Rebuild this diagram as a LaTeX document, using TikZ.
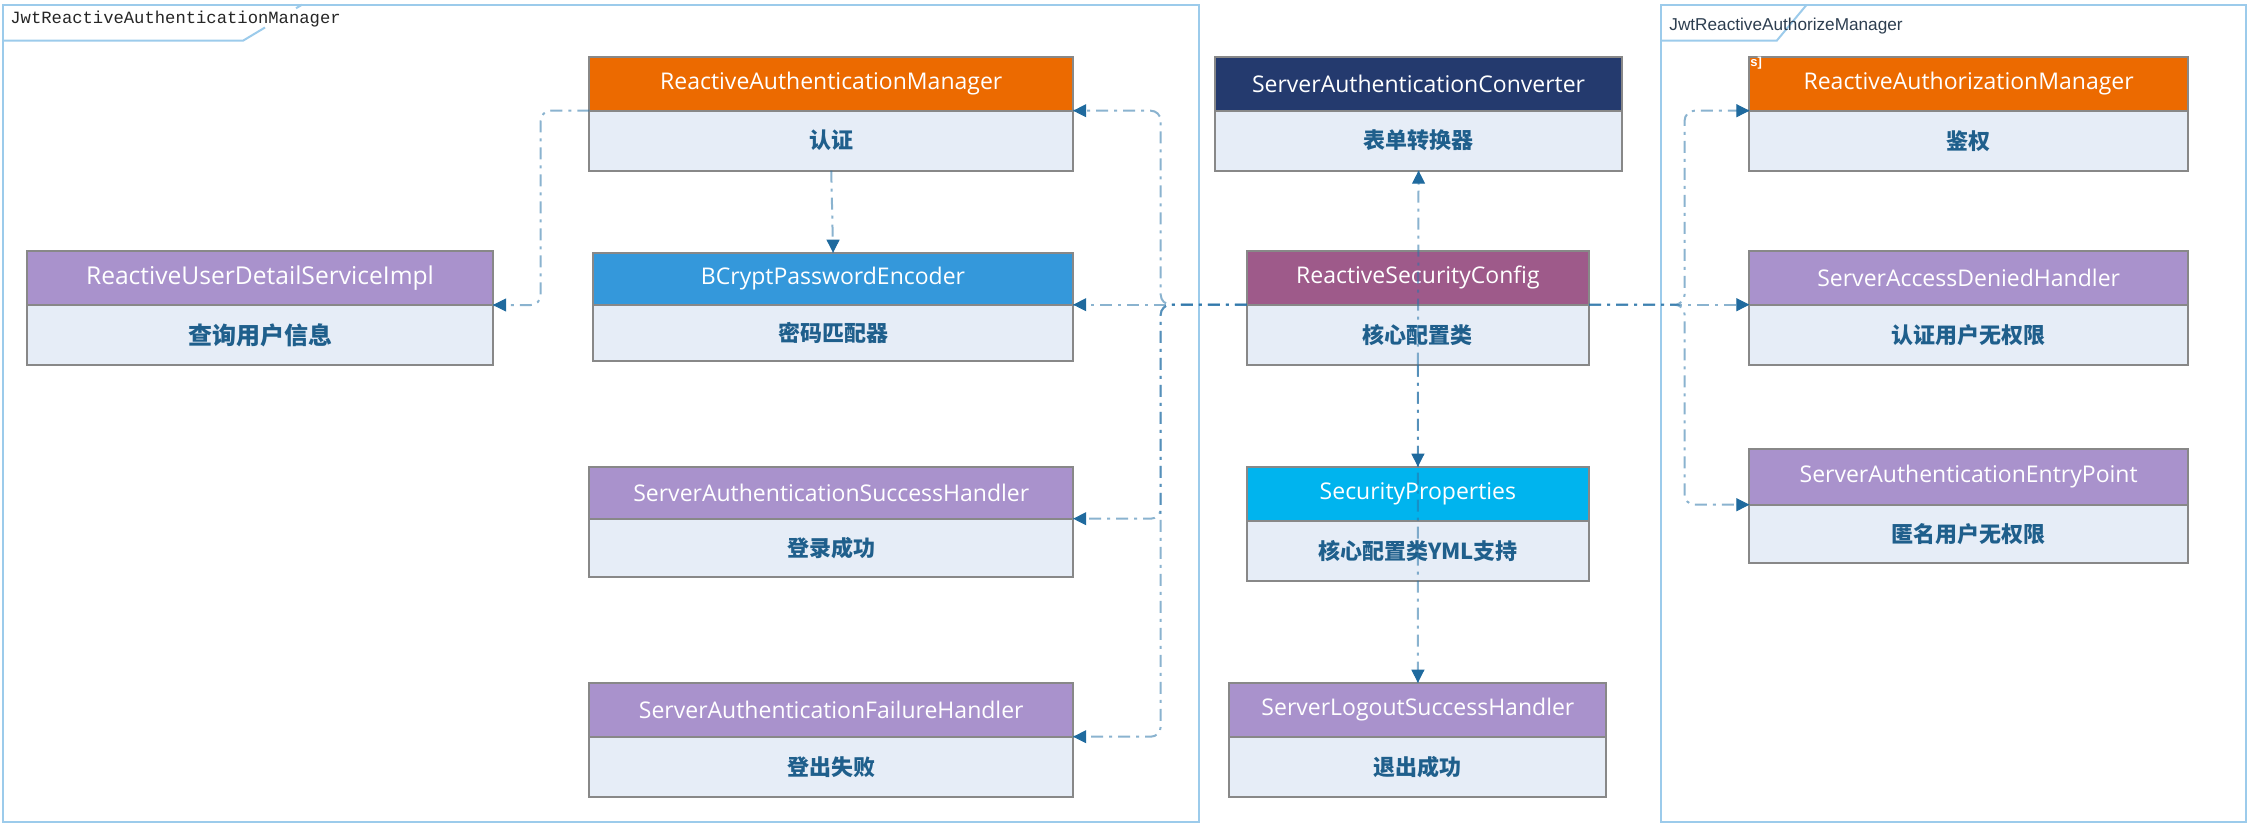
\documentclass[tikz,border=0pt]{standalone}
\usepackage{fontspec}
\setmainfont{Open Sans}
\setmonofont{Liberation Mono}
\newfontfamily\cjk{Noto Sans CJK SC}
\newfontfamily\lsans{Liberation Sans}
\usetikzlibrary{arrows.meta,calc}
\definecolor{frameblue}{HTML}{9CCBEB}
\definecolor{boxgray}{HTML}{888888}
\definecolor{bodyfill}{HTML}{E6EDF7}
\definecolor{bodytext}{HTML}{1F5F8C}
\definecolor{hOrange}{HTML}{EC6A00}
\definecolor{hNavy}{HTML}{243A6E}
\definecolor{hBlue}{HTML}{3498DB}
\definecolor{hPlum}{HTML}{9E5A8A}
\definecolor{hLilac}{HTML}{A992CC}
\definecolor{hCyan}{HTML}{00B4EE}
\definecolor{connblue}{HTML}{2A74A8}
\definecolor{tipblue}{HTML}{1F6A9E}
\definecolor{labeldark}{HTML}{2D3E50}
\newcommand\clsbox[9]{%
  \node[hdr, fill=#7, minimum width=#4*0.5pt, minimum height=#5*0.5pt] (#1) at (#2,#3) {#8};
  \node[bdy, minimum width=#4*0.5pt, minimum height=#6*0.5pt] (#1b) at (#1.south west) {#9};}
\begin{document}
\begin{tikzpicture}[x=0.5pt,y=-0.5pt,
  hdr/.style={draw=boxgray, line width=1pt, anchor=north west, inner sep=0pt, outer sep=0pt,
    text=white, font=\fontsize{11.5}{13}\selectfont},
  bdy/.style={draw=boxgray, line width=1pt, fill=bodyfill, anchor=north west, inner sep=0pt, outer sep=0pt,
    text=bodytext, font=\cjk\bfseries\fontsize{11}{13}\selectfont},
  frame/.style={draw=frameblue, line width=1pt},
  conn/.style={draw=connblue, draw opacity=0.55, line width=1pt, rounded corners=5pt,
    dash pattern=on 6pt off 3pt on 1.5pt off 3pt},
  tip/.style={draw=tipblue, fill=tipblue, line width=0.5pt, solid, -{Triangle[length=6.5pt,width=6.5pt]}}
]
\useasboundingbox (0,0) rectangle (2248,824);
% frames
\draw[frame] (3,4.7) rectangle (1198.7,822);
\draw[frame] (3,40.7) -- (243,40.7) -- (265,27.5);
\draw[frame] (296,8.3) -- (302,4.7);
\node[anchor=base west, inner sep=0pt, font=\ttfamily\fontsize{8.6}{10}\selectfont, text=black!85] (lblA) at (10,23.5) {JwtReactiveAuthenticationManager};
\draw[frame] (1661,4.7) rectangle (2246,822);
\draw[frame] (1661,40.7) -- (1776.7,40.7) -- (1806.7,4.7);
\node[anchor=base west, inner sep=0pt, font=\lsans\fontsize{8.6}{10}\selectfont, text=labeldark] (lblB) at (1669,30.7) {JwtReactiveAuthorizeManager};
% boxes
\clsbox{ud}{27}{251}{466}{54}{60}{hLilac}{\fontsize{12.3}{14}\selectfont ReactiveUserDetailServiceImpl}{\fontsize{12}{14}\selectfont 查询用户信息}
\clsbox{ram}{589.3}{56.7}{483.9}{54}{60}{hOrange}{ReactiveAuthenticationManager}{认证}
\clsbox{bc}{592.9}{252.7}{480.3}{52}{56}{hBlue}{BCryptPasswordEncoder}{密码匹配器}
\clsbox{sh}{589.3}{466.7}{483.9}{52}{58}{hLilac}{ServerAuthenticationSuccessHandler}{登录成功}
\clsbox{fh}{589.3}{682.7}{483.9}{54}{60}{hLilac}{ServerAuthenticationFailureHandler}{登出失败}
\clsbox{conv}{1214.7}{56.7}{407.7}{54}{60}{hNavy}{ServerAuthenticationConverter}{表单转换器}
\clsbox{cfg}{1246.8}{250.7}{342.2}{54}{60}{hPlum}{ReactiveSecurityConfig}{核心配置类}
\clsbox{sp}{1246.8}{466.7}{342.2}{54}{60}{hCyan}{SecurityProperties}{核心配置类YML支持}
\clsbox{lo}{1229.4}{682.7}{377}{54}{60}{hLilac}{ServerLogoutSuccessHandler}{退出成功}
\clsbox{azm}{1749.4}{56.7}{438.5}{54}{60}{hOrange}{ReactiveAuthorizationManager}{鉴权}
\clsbox{adh}{1749.4}{250.7}{438.5}{54}{60}{hLilac}{ServerAccessDeniedHandler}{认证用户无权限}
\clsbox{ep}{1749.4}{448.7}{438.5}{56}{58}{hLilac}{ServerAuthenticationEntryPoint}{匿名用户无权限}
\node[anchor=north west, inner sep=0pt, text=white, font=\lsans\bfseries\fontsize{6.5}{7}\selectfont] (sj) at (1750,56.5) {s]};
% bus coordinates
\coordinate (busL) at (1160.7,0);
\coordinate (busR) at (1684.6,0);
\coordinate (udx) at (540.7,0);
% connectors
\draw[conn] (ramb.north west) -| (udx |- udb.north east) -- (udb.north east);
\draw[conn] (ramb.south) -- (bc.north);
\draw[conn] (cfgb.north west) -| (busL |- ramb.north east) -- (ramb.north east);
\draw[conn] (cfgb.north west) -- (bcb.north east);
\draw[conn] (cfgb.north west) -| (busL |- shb.north east) -- (shb.north east);
\draw[conn] (cfgb.north west) -| (busL |- fhb.north east) -- (fhb.north east);
\draw[conn] (cfgb.north east) -| (busR |- azmb.north west) -- (azmb.north west);
\draw[conn] (cfgb.north east) -- (adhb.north west);
\draw[conn] (cfgb.north east) -| (busR |- epb.north west) -- (epb.north west);
\draw[conn] (cfgb.south) -- (convb.south);
\draw[conn] (cfgb.south) -- (sp.north);
\draw[conn] (cfgb.south) -- (lo.north);
% arrow tips
\draw[tip] ([xshift=2pt]udb.north east) -- (udb.north east);
\draw[tip] ([yshift=2pt]bc.north) -- (bc.north);
\draw[tip] ([xshift=2pt]ramb.north east) -- (ramb.north east);
\draw[tip] ([xshift=2pt]bcb.north east) -- (bcb.north east);
\draw[tip] ([xshift=2pt]shb.north east) -- (shb.north east);
\draw[tip] ([xshift=2pt]fhb.north east) -- (fhb.north east);
\draw[tip] ([xshift=-2pt]azmb.north west) -- (azmb.north west);
\draw[tip] ([xshift=-2pt]adhb.north west) -- (adhb.north west);
\draw[tip] ([xshift=-2pt]epb.north west) -- (epb.north west);
\draw[tip] ([yshift=-2pt]convb.south) -- (convb.south);
\draw[tip] ([yshift=2pt]sp.north) -- (sp.north);
\draw[tip] ([yshift=2pt]lo.north) -- (lo.north);
\end{tikzpicture}
\end{document}
